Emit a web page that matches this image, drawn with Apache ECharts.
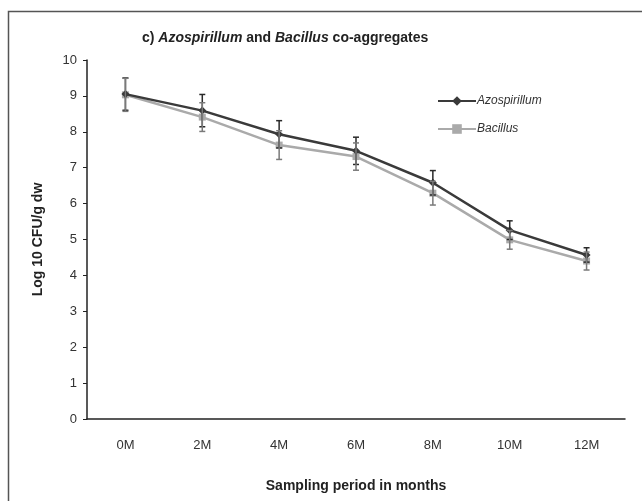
<!DOCTYPE html>
<html>
<head>
<meta charset="utf-8">
<script src="https://cdn.jsdelivr.net/npm/echarts@6/dist/echarts.min.js"></script>
<style>
  html, body { margin: 0; padding: 0; background: #fff; }
  #chart { width: 642px; height: 501px; }
</style>
</head>
<body>
<div id="chart"></div>
<script>
const months = ['0M', '2M', '4M', '6M', '8M', '10M', '12M'];
const azoValues = [9.05, 8.59, 7.93, 7.47, 6.58, 5.26, 4.57];
const bacValues = [9.03, 8.41, 7.63, 7.31, 6.29, 4.99, 4.40];
const azoErr = [0.45, 0.45, 0.38, 0.38, 0.34, 0.26, 0.2];
const bacErr = [0.46, 0.4, 0.4, 0.38, 0.33, 0.26, 0.25];

const font = "'Liberation Sans', Arial, sans-serif";

// error bar data: [category index, low, high]
const errData = (vals, errs) => vals.map((v, i) => [i, v - errs[i], v + errs[i]]);

const renderErr = (color) => function (params, api) {
    const lo = api.coord([api.value(0), api.value(1)]);
    const hi = api.coord([api.value(0), api.value(2)]);
    const w = 3;
    const style = {stroke: color, lineWidth: 1.5};
    return {
        type: 'group',
        children: [
            {type: 'line', shape: {x1: hi[0], y1: hi[1], x2: lo[0], y2: lo[1]}, style: style},
            {type: 'line', shape: {x1: hi[0] - w, y1: hi[1], x2: hi[0] + w, y2: hi[1]}, style: style},
            {type: 'line', shape: {x1: lo[0] - w, y1: lo[1], x2: lo[0] + w, y2: lo[1]}, style: style}
        ]
    };
};

const chart = echarts.init(document.getElementById('chart'));
chart.setOption({
    animation: false,
    backgroundColor: '#fff',
    textStyle: {fontFamily: font},
    graphic: [{
        type: 'rect',
        shape: {x: 8.5, y: 11.5, width: 700, height: 600},
        style: {fill: 'none', stroke: '#555', lineWidth: 1.5}
    }],
    title: {
        text: '{b|c) }{bi|Azospirillum}{b| and }{bi|Bacillus}{b| co-aggregates}',
        left: 137,
        top: 26,
        textStyle: {
            rich: {
                b: {fontFamily: font, fontSize: 14, fontWeight: 'bold', color: '#222'},
                bi: {fontFamily: font, fontSize: 14, fontWeight: 'bold', fontStyle: 'italic', color: '#222'}
            }
        }
    },
    legend: {
        orient: 'vertical',
        left: 432,
        top: 90,
        itemWidth: 38,
        itemHeight: 12,
        itemGap: 16,
        data: ['Azospirillum', 'Bacillus'],
        textStyle: {fontFamily: font, fontSize: 12, fontStyle: 'italic', color: '#333', padding: [0, 0, 0, -4]}
    },
    grid: {left: 87, right: 17, top: 60, bottom: 82},
    xAxis: {
        type: 'category',
        data: months,
        boundaryGap: true,
        name: 'Sampling period in months',
        nameLocation: 'middle',
        nameGap: 60,
        nameTextStyle: {fontFamily: font, fontSize: 14, fontWeight: 'bold', color: '#222'},
        axisLine: {lineStyle: {color: '#222', width: 1.5}},
        axisTick: {alignWithLabel: true, length: 4, lineStyle: {color: '#222'}},
        axisLabel: {fontFamily: font, fontSize: 13, color: '#333', margin: 20},
        splitLine: {show: false}
    },
    yAxis: {
        type: 'value',
        min: 0,
        max: 10,
        interval: 1,
        name: 'Log 10 CFU/g dw',
        nameLocation: 'middle',
        nameGap: 42,
        nameTextStyle: {fontFamily: font, fontSize: 14, fontWeight: 'bold', color: '#222'},
        axisLine: {show: true, lineStyle: {color: '#222', width: 1.5}},
        axisTick: {show: true, length: 4, lineStyle: {color: '#222'}},
        axisLabel: {fontFamily: font, fontSize: 13, color: '#333', margin: 10},
        splitLine: {show: false}
    },
    series: [
        {
            name: 'Bacillus',
            type: 'line',
            data: bacValues,
            symbol: 'rect',
            symbolSize: 7,
            lineStyle: {color: '#aaa', width: 2.5},
            itemStyle: {color: '#aaa'},
            z: 3
        },
        {
            name: 'Azospirillum',
            type: 'line',
            data: azoValues,
            symbol: 'diamond',
            symbolSize: 8,
            lineStyle: {color: '#3a3a3a', width: 2.5},
            itemStyle: {color: '#3a3a3a'},
            z: 4
        },
        {
            type: 'custom',
            name: 'azoErr',
            data: errData(azoValues, azoErr),
            renderItem: renderErr('#2a2a2a'),
            z: 5
        },
        {
            type: 'custom',
            name: 'bacErr',
            data: errData(bacValues, bacErr),
            renderItem: renderErr('#7a7a7a'),
            z: 5
        }
    ]
});
</script>
</body>
</html>
